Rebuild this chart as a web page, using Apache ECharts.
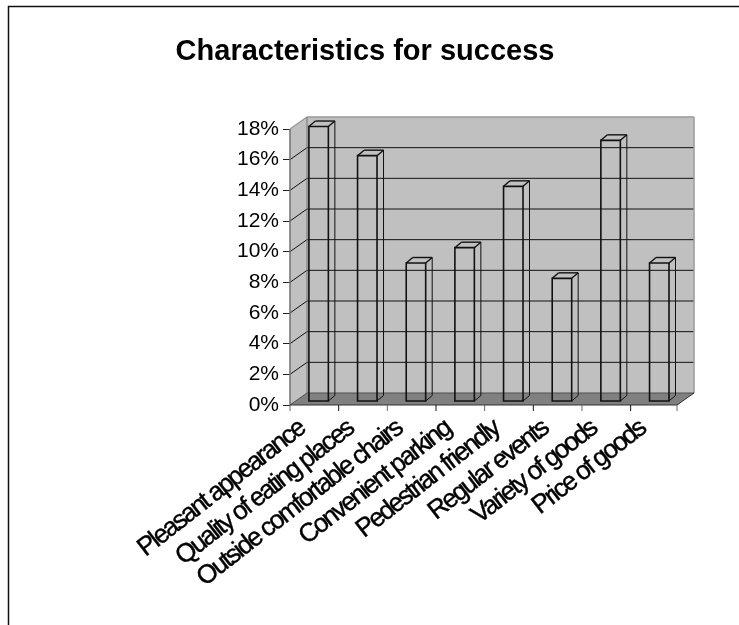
<!DOCTYPE html>
<html>
<head>
<meta charset="utf-8">
<style>html,body{margin:0;padding:0;background:#fff}#chart{width:739px;height:625px}</style>
<script src="https://cdn.jsdelivr.net/npm/echarts@6/dist/echarts.min.js"></script>
</head>
<body>
<div id="chart"></div>
<script>
const titleText = 'Characteristics for success';
const categories = ['Pleasant appearance', 'Quality of eating places', 'Outside comfortable chairs', 'Convenient parking', 'Pedestrian friendly', 'Regular events', 'Variety of goods', 'Price of goods'];
const shares = [17.9, 16, 9, 10, 14, 8, 17, 9];
const yTicks = [0, 2, 4, 6, 8, 10, 12, 14, 16, 18];

// Category labels are set tight, so their glyphs run into each other.
const nativeFillText = CanvasRenderingContext2D.prototype.fillText;
const nativeStrokeText = CanvasRenderingContext2D.prototype.strokeText;
function tighten(ctx, text) {
  ctx.letterSpacing = categories.includes(text) ? '-2.2px' : '0px';
}
CanvasRenderingContext2D.prototype.fillText = function (text, x, y) {
  tighten(this, text);
  return nativeFillText.call(this, text, x, y);
};
CanvasRenderingContext2D.prototype.strokeText = function (text, x, y) {
  tighten(this, text);
  return nativeStrokeText.call(this, text, x, y);
};

// Depth of the box behind the plot, and of each column.
const WALL_DX = 17, WALL_DY = -12;
const BAR_DX = 6.5, BAR_DY = -5.5;
const BAR_SHIFT_X = 4.3, BAR_SHIFT_Y = -4;
const RIGHT_TRIM = 2.3;
const WALL = '#c0c0c0', FLOOR = '#808080', EDGE = '#9a9a9a', INK = '#111';

function poly(points, fill, stroke, lineWidth) {
  return { type: 'polygon', shape: { points }, style: { fill, stroke: stroke || null, lineWidth: lineWidth || 0 } };
}
function seg(x1, y1, x2, y2, stroke, lineWidth) {
  return { type: 'line', shape: { x1, y1, x2, y2 }, style: { stroke, lineWidth: lineWidth || 1 } };
}

function renderBox(params, api) {
  const cs = params.coordSys;
  const left = cs.x, right = cs.x + cs.width - RIGHT_TRIM;
  const bottom = api.coord([0, 0])[1], top = api.coord([0, yTicks[yTicks.length - 1]])[1];
  const bl = left + WALL_DX, br = right + WALL_DX;
  const children = [
    poly([[left, bottom], [left, top], [bl, top + WALL_DY], [bl, bottom + WALL_DY]], WALL),
    poly([[bl, top + WALL_DY], [br, top + WALL_DY], [br, bottom + WALL_DY], [bl, bottom + WALL_DY]], WALL),
    poly([[left, bottom], [bl, bottom + WALL_DY], [br, bottom + WALL_DY], [right, bottom]], FLOOR)
  ];
  yTicks.forEach(t => {
    const y = api.coord([0, t])[1];
    if (t > 0 && t < yTicks[yTicks.length - 1]) {
      children.push(seg(left, y, bl, y + WALL_DY, INK));
      children.push(seg(bl, y + WALL_DY, br, y + WALL_DY, INK));
    }
  });
  children.push(seg(left, top, bl, top + WALL_DY, EDGE, 1.5));
  children.push(seg(bl, top + WALL_DY, br, top + WALL_DY, EDGE, 1.5));
  children.push(seg(br, top + WALL_DY, br, bottom + WALL_DY, EDGE, 1.5));
  children.push(seg(bl, top + WALL_DY, bl, bottom + WALL_DY, '#707070', 1));
  children.push(seg(left, top, left, bottom, '#707070', 1.5));
  children.push(seg(bl, bottom + WALL_DY, br, bottom + WALL_DY, '#505050', 1));
  children.push(seg(left, bottom, bl, bottom + WALL_DY, '#505050', 1));
  children.push(seg(br, bottom + WALL_DY, right, bottom, '#303030', 1));
  children.push(seg(left, bottom, right, bottom, '#303030', 1.2));
  // Category ticks stop at the front edge of the floor.
  const step = api.size([1, 0])[0];
  categories.concat('').forEach((_, i) => {
    const x = Math.min(left + i * step, right);
    children.push(seg(x, bottom, x, bottom + 6, i % 2 ? '#111' : '#666', 1));
  });
  return { type: 'group', children };
}

function renderColumn(params, api) {
  const w = api.size([1, 0])[0] * 0.4;
  const c = api.coord([api.value(0), api.value(1)]);
  const base = api.coord([api.value(0), 0])[1] + BAR_SHIFT_Y;
  const x0 = c[0] + BAR_SHIFT_X - w / 2, x1 = x0 + w, top = c[1] + BAR_SHIFT_Y;
  return {
    type: 'group',
    children: [
      seg(x1 + BAR_DX, top + BAR_DY, x1 + BAR_DX, base + BAR_DY, INK, 1),
      seg(x1, base, x1 + BAR_DX, base + BAR_DY, INK, 1),
      seg(x1, top, x1 + BAR_DX, top + BAR_DY, INK, 1.4),
      seg(x0, top, x0 + BAR_DX, top + BAR_DY, INK, 1.4),
      seg(x0 + BAR_DX, top + BAR_DY, x1 + BAR_DX, top + BAR_DY, INK, 1.4),
      { type: 'rect', shape: { x: x0, y: top, width: w, height: base - top }, style: { fill: null, stroke: INK, lineWidth: 1.6 } }
    ]
  };
}

const chart = echarts.init(document.getElementById('chart'), null, { renderer: 'canvas' });
chart.setOption({
  backgroundColor: '#fff',
  animation: false,
  textStyle: { fontFamily: 'Liberation Sans' },
  title: {
    text: titleText,
    left: 360, top: 32, textAlign: 'center',
    textStyle: { fontFamily: 'Liberation Sans', fontSize: 29, fontWeight: 'bold', color: '#000' }
  },
  grid: { left: 290, top: 129, width: 389.3, height: 276, outerBoundsMode: 'none' },
  xAxis: {
    type: 'category',
    data: categories,
    axisLine: { show: false },
    axisTick: { show: false },
    axisLabel: {
      interval: 0, rotate: 38, margin: 11, fontSize: 26, color: '#000',
      fontFamily: 'Liberation Sans', hideOverlap: false, padding: [0, 16, 0, 0],
      textBorderColor: '#000', textBorderWidth: 0.4
    }
  },
  yAxis: {
    type: 'value',
    min: 0, max: 18, interval: 2,
    splitLine: { show: false },
    axisLine: { show: false },
    axisTick: { show: true, length: 7, lineStyle: { color: '#222', width: 1 } },
    axisLabel: { margin: 11, fontSize: 21, color: '#000', fontFamily: 'Liberation Sans', formatter: '{value}%' }
  },
  series: [
    { type: 'custom', coordinateSystem: 'cartesian2d', clip: false, silent: true, z: 1, data: [[0, 0]], renderItem: renderBox },
    { type: 'custom', coordinateSystem: 'cartesian2d', clip: false, silent: true, z: 2, data: shares.map((v, i) => [i, v]), renderItem: renderColumn }
  ],
  graphic: [{
    type: 'polyline',
    shape: { points: [[8.5, 625], [8.5, 6.5], [739, 6.5]] },
    style: { fill: null, stroke: '#111', lineWidth: 1.5 },
    silent: true
  }]
});
</script>
</body>
</html>
